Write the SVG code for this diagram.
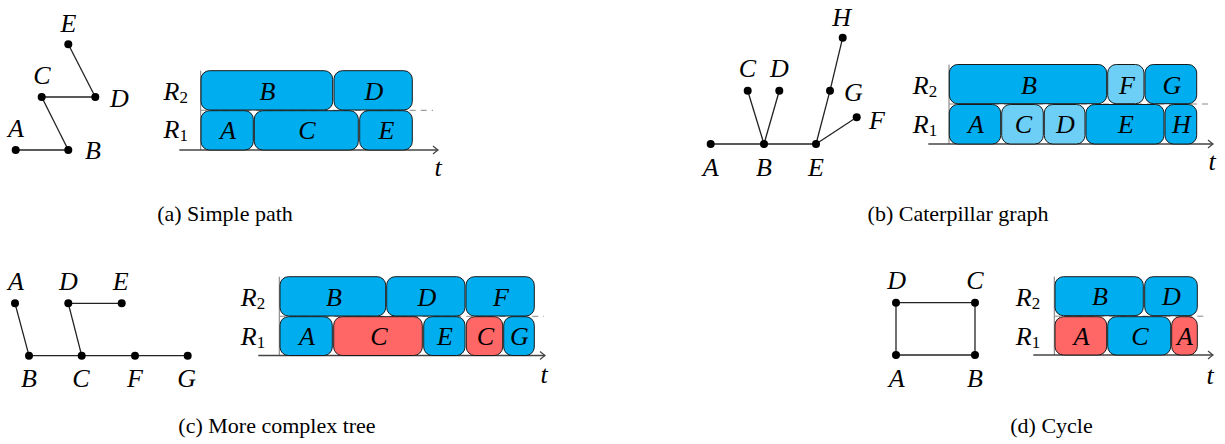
<svg xmlns="http://www.w3.org/2000/svg" width="1225" height="444" viewBox="0 0 1225 444">
<style>
.lbl{font-family:"Liberation Serif",serif;font-style:italic;font-size:26px;text-anchor:middle;fill:#000}
.sub{font-style:normal;font-size:17px}
.cap{font-family:"Liberation Serif",serif;font-size:22px;text-anchor:middle;fill:#000}
.edge{stroke:#222;stroke-width:1.3;fill:none}
.dot{fill:#000}
.axis{stroke:#444;stroke-width:1.3;fill:none}
.vax{stroke:#777;stroke-width:1;fill:none}
.dash{stroke:#888;stroke-width:1;stroke-dasharray:6 5;fill:none}
.box{stroke:#1a1a1a;stroke-width:1}
.blue{fill:#00AEEF}
.lblue{fill:#6DCFF6}
.red{fill:#FF6666}
</style>
<defs>
<marker id="arr" markerUnits="userSpaceOnUse" markerWidth="12" markerHeight="12" refX="0" refY="0" viewBox="-8 -6 10 12" orient="auto">
<path d="M-5,-4 Q-1.5,-1 0,0 Q-1.5,1 -5,4" stroke="#444" stroke-width="1.2" fill="none"/>
</marker>
</defs>

<!-- ===== (a) Simple path ===== -->
<g id="a-edges">
<line class="edge" x1="15.7" y1="150" x2="68.3" y2="150"/>
<line class="edge" x1="68.3" y1="150" x2="41.7" y2="97"/>
<line class="edge" x1="41.7" y1="97" x2="95.3" y2="97"/>
<line class="edge" x1="95.3" y1="97" x2="68.3" y2="44.3"/>
</g>
<g id="a-nodeA"><circle class="dot" cx="15.7" cy="150" r="4"/><text class="lbl" x="16" y="136.5">A</text></g>
<g id="a-nodeB"><circle class="dot" cx="68.3" cy="150" r="4"/><text class="lbl" x="93" y="158.5">B</text></g>
<g id="a-nodeC"><circle class="dot" cx="41.7" cy="97" r="4"/><text class="lbl" x="42" y="83.5">C</text></g>
<g id="a-nodeD"><circle class="dot" cx="95.3" cy="97" r="4"/><text class="lbl" x="119.5" y="106.5">D</text></g>
<g id="a-nodeE"><circle class="dot" cx="68.3" cy="44.3" r="4"/><text class="lbl" x="68.5" y="32">E</text></g>

<g id="a-chart">
<line class="vax" x1="200.7" y1="70.7" x2="200.7" y2="150"/>
<line class="dash" x1="200.7" y1="110.3" x2="433" y2="110.3"/>
<line class="axis" x1="179.3" y1="150" x2="438" y2="150" marker-end="url(#arr)"/>
<rect class="box blue" x="201" y="70.7" width="131.7" height="39.3" rx="8.5"/>
<rect class="box blue" x="334" y="70.7" width="78.3" height="39.3" rx="8.5"/>
<rect class="box blue" x="201" y="110.7" width="52.3" height="39.3" rx="8.5"/>
<rect class="box blue" x="254.3" y="110.7" width="104" height="39.3" rx="8.5"/>
<rect class="box blue" x="359.7" y="110.7" width="52.6" height="39.3" rx="8.5"/>
<text class="lbl" x="267.5" y="99.5">B</text>
<text class="lbl" x="374" y="99.5">D</text>
<text class="lbl" x="228" y="139">A</text>
<text class="lbl" x="307" y="139">C</text>
<text class="lbl" x="386.5" y="139">E</text>
<text class="lbl" x="175.8" y="99.5">R<tspan class="sub" dy="3">2</tspan></text>
<text class="lbl" x="175.8" y="138">R<tspan class="sub" dy="3">1</tspan></text>
<text class="lbl" x="438" y="175.5">t</text>
</g>
<text class="cap" x="225" y="221">(a) Simple path</text>

<!-- ===== (b) Caterpillar graph ===== -->
<g id="b-edges">
<line class="edge" x1="710.7" y1="144" x2="816" y2="144"/>
<line class="edge" x1="764" y1="144" x2="747.7" y2="90.7"/>
<line class="edge" x1="764" y1="144" x2="779.3" y2="90.7"/>
<line class="edge" x1="816" y1="144" x2="830" y2="90.7"/>
<line class="edge" x1="830" y1="90.7" x2="842.7" y2="37.7"/>
<line class="edge" x1="816" y1="144" x2="856.7" y2="117.3"/>
</g>
<g id="b-nodeA"><circle class="dot" cx="710.7" cy="144" r="4"/><text class="lbl" x="710.7" y="175.5">A</text></g>
<g id="b-nodeB"><circle class="dot" cx="764" cy="144" r="4"/><text class="lbl" x="764" y="175.5">B</text></g>
<g id="b-nodeE"><circle class="dot" cx="816" cy="144" r="4"/><text class="lbl" x="816" y="175.5">E</text></g>
<g id="b-nodeC"><circle class="dot" cx="747.7" cy="90.7" r="4"/><text class="lbl" x="747.3" y="76.5">C</text></g>
<g id="b-nodeD"><circle class="dot" cx="779.3" cy="90.7" r="4"/><text class="lbl" x="779.3" y="76.5">D</text></g>
<g id="b-nodeG"><circle class="dot" cx="830" cy="90.7" r="4"/><text class="lbl" x="853.3" y="100.5">G</text></g>
<g id="b-nodeH"><circle class="dot" cx="842.7" cy="37.7" r="4"/><text class="lbl" x="841.7" y="25.5">H</text></g>
<g id="b-nodeF"><circle class="dot" cx="856.7" cy="117.3" r="4"/><text class="lbl" x="877" y="128.5">F</text></g>

<g id="b-chart">
<line class="vax" x1="949" y1="64.5" x2="949" y2="144"/>
<line class="dash" x1="949" y1="104" x2="1212" y2="104"/>
<line class="axis" x1="928.3" y1="144" x2="1213" y2="144" marker-end="url(#arr)"/>
<rect class="box blue" x="949.3" y="64.5" width="157.4" height="39.2" rx="8.5"/>
<rect class="box lblue" x="1107.7" y="64.5" width="36.3" height="39.2" rx="8.5"/>
<rect class="box blue" x="1145" y="64.5" width="51.7" height="39.2" rx="8.5"/>
<rect class="box blue" x="949.3" y="104.5" width="51.4" height="39.5" rx="8.5"/>
<rect class="box lblue" x="1001.7" y="104.5" width="41.6" height="39.5" rx="8.5"/>
<rect class="box lblue" x="1044.3" y="104.5" width="40.7" height="39.5" rx="8.5"/>
<rect class="box blue" x="1086" y="104.5" width="78" height="39.5" rx="8.5"/>
<rect class="box blue" x="1165" y="104.5" width="31.7" height="39.5" rx="8.5"/>
<text class="lbl" x="1029" y="93.5">B</text>
<text class="lbl" x="1127" y="93.5">F</text>
<text class="lbl" x="1172" y="93.5">G</text>
<text class="lbl" x="976" y="133">A</text>
<text class="lbl" x="1023.5" y="133">C</text>
<text class="lbl" x="1065.5" y="133">D</text>
<text class="lbl" x="1126" y="133">E</text>
<text class="lbl" x="1181.5" y="133">H</text>
<text class="lbl" x="925" y="93.5">R<tspan class="sub" dy="3">2</tspan></text>
<text class="lbl" x="925" y="132.5">R<tspan class="sub" dy="3">1</tspan></text>
<text class="lbl" x="1212" y="169.5">t</text>
</g>
<text class="cap" x="958" y="221">(b) Caterpillar graph</text>

<!-- ===== (c) More complex tree ===== -->
<g id="c-edges">
<line class="edge" x1="15" y1="303.3" x2="29" y2="355.7"/>
<line class="edge" x1="68.3" y1="303.3" x2="81.7" y2="355.7"/>
<line class="edge" x1="68.3" y1="303.3" x2="121.7" y2="303.3"/>
<line class="edge" x1="29" y1="355.7" x2="187.7" y2="355.7"/>
</g>
<g id="c-nodeA"><circle class="dot" cx="15" cy="303.3" r="4"/><text class="lbl" x="16" y="289.5">A</text></g>
<g id="c-nodeD"><circle class="dot" cx="68.3" cy="303.3" r="4"/><text class="lbl" x="68.3" y="289.5">D</text></g>
<g id="c-nodeE"><circle class="dot" cx="121.7" cy="303.3" r="4"/><text class="lbl" x="120.7" y="289.5">E</text></g>
<g id="c-nodeB"><circle class="dot" cx="29" cy="355.7" r="4"/><text class="lbl" x="29" y="387">B</text></g>
<g id="c-nodeC"><circle class="dot" cx="81.7" cy="355.7" r="4"/><text class="lbl" x="81" y="387">C</text></g>
<g id="c-nodeF"><circle class="dot" cx="135" cy="355.7" r="4"/><text class="lbl" x="135" y="387">F</text></g>
<g id="c-nodeG"><circle class="dot" cx="187.7" cy="355.7" r="4"/><text class="lbl" x="186.7" y="387">G</text></g>

<g id="c-chart">
<line class="vax" x1="279.3" y1="276.7" x2="279.3" y2="355.5"/>
<line class="dash" x1="279.3" y1="316.3" x2="544" y2="316.3"/>
<line class="axis" x1="258.3" y1="355.5" x2="545" y2="355.5" marker-end="url(#arr)"/>
<rect class="box blue" x="280" y="276.7" width="105.7" height="39.3" rx="8.5"/>
<rect class="box blue" x="386.7" y="276.7" width="78.3" height="39.3" rx="8.5"/>
<rect class="box blue" x="466" y="276.7" width="68.3" height="39.3" rx="8.5"/>
<rect class="box blue" x="280" y="316.7" width="52.3" height="38.8" rx="8.5"/>
<rect class="box red" x="333.7" y="316.7" width="88.6" height="38.8" rx="8.5"/>
<rect class="box blue" x="423.7" y="316.7" width="41.3" height="38.8" rx="8.5"/>
<rect class="box red" x="466.3" y="316.7" width="36.4" height="38.8" rx="8.5"/>
<rect class="box blue" x="503.7" y="316.7" width="30.6" height="38.8" rx="8.5"/>
<text class="lbl" x="334" y="305.5">B</text>
<text class="lbl" x="427" y="305.5">D</text>
<text class="lbl" x="501" y="305.5">F</text>
<text class="lbl" x="307" y="345">A</text>
<text class="lbl" x="379" y="345">C</text>
<text class="lbl" x="445" y="345">E</text>
<text class="lbl" x="485.5" y="345">C</text>
<text class="lbl" x="519.5" y="345">G</text>
<text class="lbl" x="253" y="305.5">R<tspan class="sub" dy="3">2</tspan></text>
<text class="lbl" x="253" y="345">R<tspan class="sub" dy="3">1</tspan></text>
<text class="lbl" x="544" y="382.5">t</text>
</g>
<text class="cap" x="277" y="433">(c) More complex tree</text>

<!-- ===== (d) Cycle ===== -->
<g id="d-edges">
<line class="edge" x1="896" y1="302.7" x2="975" y2="302.7"/>
<line class="edge" x1="975" y1="302.7" x2="975" y2="355"/>
<line class="edge" x1="975" y1="355" x2="896" y2="355"/>
<line class="edge" x1="896" y1="355" x2="896" y2="302.7"/>
</g>
<g id="d-nodeD"><circle class="dot" cx="896" cy="302.7" r="4"/><text class="lbl" x="896.7" y="289">D</text></g>
<g id="d-nodeC"><circle class="dot" cx="975" cy="302.7" r="4"/><text class="lbl" x="975" y="289">C</text></g>
<g id="d-nodeA"><circle class="dot" cx="896" cy="355" r="4"/><text class="lbl" x="896.7" y="387">A</text></g>
<g id="d-nodeB"><circle class="dot" cx="975" cy="355" r="4"/><text class="lbl" x="975" y="387">B</text></g>

<g id="d-chart">
<line class="vax" x1="1054.3" y1="276.7" x2="1054.3" y2="355"/>
<line class="dash" x1="1054.3" y1="316.2" x2="1205" y2="316.2"/>
<line class="axis" x1="1033.3" y1="355" x2="1213" y2="355" marker-end="url(#arr)"/>
<rect class="box blue" x="1055" y="276.7" width="88.3" height="39" rx="8.5"/>
<rect class="box blue" x="1144.7" y="276.7" width="52.6" height="39" rx="8.5"/>
<rect class="box red" x="1055" y="316.7" width="51.7" height="38.3" rx="8.5"/>
<rect class="box blue" x="1107.7" y="316.7" width="63" height="38.3" rx="8.5"/>
<rect class="box red" x="1171.7" y="316.7" width="25.6" height="38.3" rx="8.5"/>
<text class="lbl" x="1100" y="305">B</text>
<text class="lbl" x="1171.5" y="305">D</text>
<text class="lbl" x="1081.5" y="344.5">A</text>
<text class="lbl" x="1140" y="344.5">C</text>
<text class="lbl" x="1185" y="344.5">A</text>
<text class="lbl" x="1028" y="305.5">R<tspan class="sub" dy="3">2</tspan></text>
<text class="lbl" x="1028" y="344.5">R<tspan class="sub" dy="3">1</tspan></text>
<text class="lbl" x="1210" y="383.5">t</text>
</g>
<text class="cap" x="1051.5" y="433">(d) Cycle</text>
</svg>
